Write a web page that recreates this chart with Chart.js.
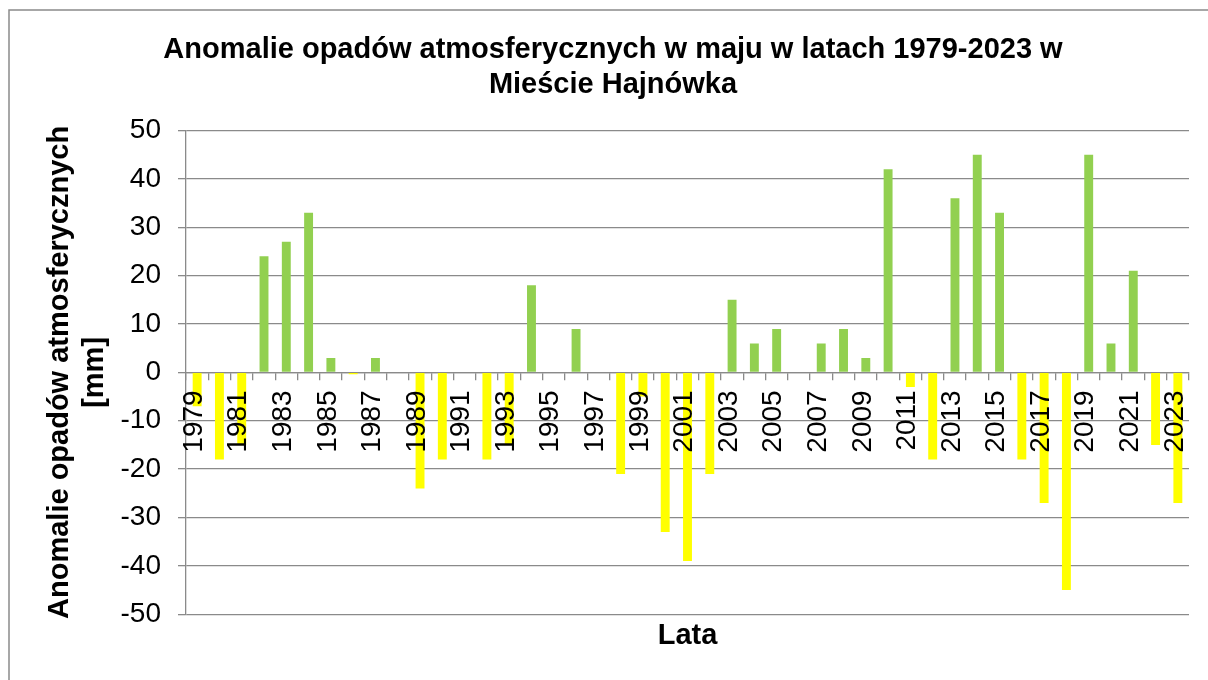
<!DOCTYPE html>
<html>
<head>
<meta charset="utf-8">
<title>Anomalie opadów - Hajnówka</title>
<script src="https://cdn.jsdelivr.net/npm/chart.js@4"></script>
<style>
    body { margin: 0; background: #fff; }
    .chart-wrap { width: 1208px; height: 680px; }
</style>
</head>
<body>
<div class="chart-wrap">
    <canvas id="anomalyChart" width="1208" height="680"></canvas>
</div>
<script>
// data
const years = [];
for (let y = 1979; y <= 2023; y++) years.push(String(y));

const anomalies = [
    -7, -18, -15, 24, 27, 33, 3, -0.4, 3, 0,      // 1979-1988
    -24, -18, 0, -18, -15, 18, 0, 9, 0, -21,       // 1989-1998
    -5, -33, -39, -21, 15, 6, 9, 0, 6, 9,          // 1999-2008
    3, 42, -3, -18, 36, 45, 33, -18, -27, -45,     // 2009-2018
    45, 6, 21, -15, -27                            // 2019-2023
];
const yTicks = [-50, -40, -30, -20, -10, 0, 10, 20, 30, 40, 50];

const greenBar = '#92D050';
const yellowBar = '#FFFF00';
const gridGray = '#8a8a8a';

Chart.defaults.font.family = "'Liberation Sans', Arial, sans-serif";
Chart.defaults.color = '#000';

// white background + the thin frame around the chart
const frame = {
    id: 'frame',
    beforeDraw(chart) {
        const ctx = chart.ctx;
        ctx.save();
        ctx.fillStyle = '#fff';
        ctx.fillRect(0, 0, chart.width, chart.height);
        ctx.strokeStyle = gridGray;
        ctx.lineWidth = 1.5;
        ctx.strokeRect(9, 10, 1400, 900);
        ctx.restore();
    }
};

const ctx = document.getElementById('anomalyChart').getContext('2d');
new Chart(ctx, {
    type: 'bar',
    data: {
        labels: years,
        datasets: [{
            data: anomalies,
            backgroundColor: anomalies.map(v => v < 0 ? yellowBar : greenBar),
            borderWidth: 0,
            barPercentage: 0.4,
            categoryPercentage: 1
        }]
    },
    options: {
        responsive: false,
        devicePixelRatio: 1,
        animation: false,
        layout: {
            padding: { top: 10, left: 37, right: 19, bottom: 10 }
        },
        plugins: {
            legend: { display: false },
            tooltip: { enabled: false },
            title: {
                display: true,
                text: ['Anomalie opadów atmosferycznych w maju w latach 1979-2023 w', 'Mieście Hajnówka'],
                font: { size: 29, weight: 'bold', lineHeight: 1.2 },
                color: '#000',
                padding: { top: 23, bottom: 28 }
            },
            subtitle: {
                display: true,
                position: 'bottom',
                fullSize: false,
                text: 'Lata',
                font: { size: 29, weight: 'bold', lineHeight: 1.2 },
                color: '#000',
                padding: { top: 4, bottom: 17 }
            }
        },
        scales: {
            x: {
                position: { y: 0 },
                afterFit: axis => {
                    // rotated end labels should not shrink the plot
                    axis.paddingLeft = 0;
                    axis.paddingRight = 0;
                },
                grid: {
                    display: true,
                    drawOnChartArea: false,
                    drawTicks: true,
                    tickLength: 7,
                    color: gridGray,
                    lineWidth: 1.3
                },
                border: { display: true, color: gridGray, width: 1.3 },
                ticks: {
                    z: 1, // year labels are drawn over the bars
                    autoSkip: false,
                    minRotation: 90,
                    maxRotation: 90,
                    padding: 11,
                    labelOffset: -3,
                    font: { size: 28 },
                    color: '#000',
                    callback: function (value, index) {
                        return index % 2 === 0 ? years[index] : '';
                    }
                }
            },
            y: {
                min: yTicks[0],
                max: yTicks[yTicks.length - 1],
                afterBuildTicks: axis => {
                    axis.ticks = yTicks.map(v => ({ value: v }));
                },
                afterFit: axis => {
                    axis.width = 149;
                },
                grid: {
                    color: gridGray,
                    lineWidth: 1.3,
                    drawTicks: true,
                    tickLength: 8
                },
                border: { display: true, color: gridGray, width: 1.3 },
                ticks: {
                    padding: 17,
                    font: { size: 28 },
                    color: '#000'
                },
                title: {
                    display: true,
                    text: ['Anomalie opadów atmosferycznych', '[mm]'],
                    font: { size: 29, weight: 'bold', lineHeight: 1.2 },
                    color: '#000',
                    padding: { top: 6, bottom: 0 }
                }
            }
        }
    },
    plugins: [frame]
});
</script>
</body>
</html>
